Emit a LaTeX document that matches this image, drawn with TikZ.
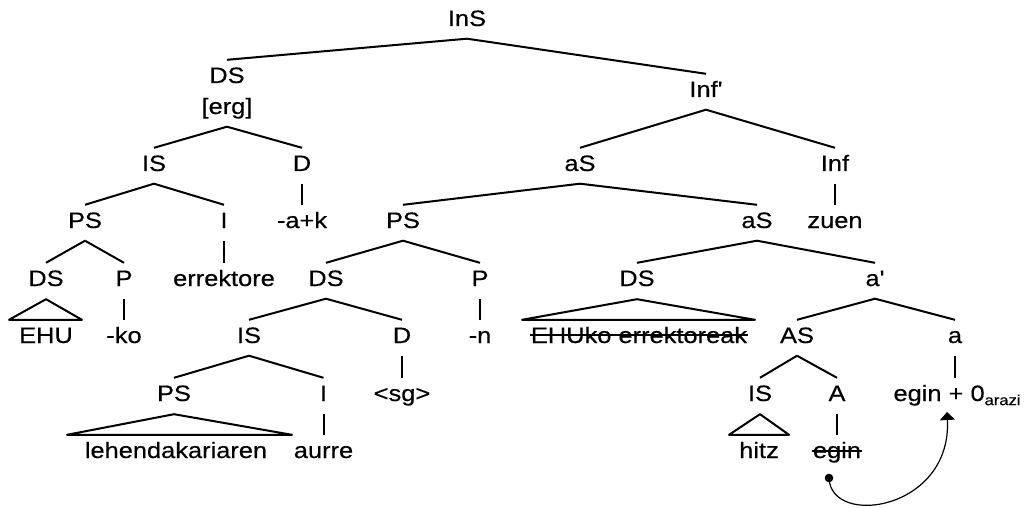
\documentclass[tikz,border=0pt]{standalone}
\usepackage{fontspec}
\newfontfamily\treefont[FakeStretch=1.14,FakeBold=0.4]{Liberation Sans}
\usetikzlibrary{calc,arrows.meta}
\begin{document}
\begin{tikzpicture}[x=1pt,y=-1pt,
  lab/.style={anchor=base, inner sep=0pt, text height=16pt, text depth=0pt,
    font=\fontsize{22.3}{26}\treefont},
  edge/.style={line width=2pt, line join=round},
  strike/.style={line width=1.5pt},
  mover/.style={line width=1.2pt, -{Triangle[width=15pt,length=8pt]}}]
\useasboundingbox (0,0) rectangle (1025,508);
% row 1
\node[lab] (ins) at (467,26) {InS};
\node[lab] (ds1) at (227,83) {DS};
\node[lab] (erg) at (227,114) {[erg]};
\node[lab] (infb) at (706,97) {Inf'};
% row
\node[lab] (is1) at (154,171) {IS};
\node[lab] (d1) at (302,171) {D};
\node[lab] (as1) at (580,171) {aS};
\node[lab] (inf) at (835,171) {Inf};
% row
\node[lab] (ps1) at (85,228) {PS};
\node[lab] (i1) at (224,228) {I};
\node[lab] (ak) at (302,228) {-a+k};
\node[lab] (ps2) at (403,228) {PS};
\node[lab] (as2) at (757,228) {aS};
\node[lab] (zuen) at (835,228) {zuen};
% row
\node[lab] (ds2) at (46,286) {DS};
\node[lab] (p1) at (124,286) {P};
\node[lab] (errek) at (224,286) {errektore};
\node[lab] (ds3) at (326,286) {DS};
\node[lab] (p2) at (480,286) {P};
\node[lab] (ds4) at (637,286) {DS};
\node[lab] (ab) at (875,286) {a'};
% row
\node[lab] (ehu) at (46,343) {EHU};
\node[lab] (ko) at (124,343) {-ko};
\node[lab] (is2) at (249,343) {IS};
\node[lab] (d2) at (402,343) {D};
\node[lab] (n) at (480,343) {-n};
\node[lab] (ehuko) at (639,343) {EHUko errektoreak};
\node[lab] (as3) at (797,343) {AS};
\node[lab] (a) at (955,343) {a};
% row
\node[lab] (ps3) at (174,401) {PS};
\node[lab] (i2) at (323.5,401) {I};
\node[lab] (sg) at (402,401) {<sg>};
\node[lab] (is3) at (760,401) {IS};
\node[lab] (A) at (837,401) {A};
\node[lab] (egin0) at (957,401) {egin + 0\raisebox{-0.35ex}{\fontsize{14.5}{15}\selectfont arazi}};
% row
\node[lab] (leh) at (176,458) {lehendakariaren};
\node[lab] (aurre) at (323.5,458) {aurre};
\node[lab] (hitz) at (759,458) {hitz};
\node[lab] (egin) at (837,458) {egin};
% branching edges
\foreach \p/\c in {ins/ds1, ins/infb, erg/is1, erg/d1, infb/as1, infb/inf,
  is1/ps1, is1/i1, as1/ps2, as1/as2, ps1/ds2, ps1/p1, ps2/ds3, ps2/p2,
  as2/ds4, as2/ab, ds3/is2, ds3/d2, ab/as3, ab/a, is2/ps3, is2/i2,
  as3/is3, as3/A}
  \draw[edge] ($(\p.south)+(0,12.5)$) -- ($(\c.north)+(0,-7)$);
% unary edges
\foreach \p/\c in {d1/ak, inf/zuen, i1/errek, p1/ko, p2/n, d2/sg, a/egin0,
  i2/aurre, A/egin}
  \draw[edge] ($(\p.south)+(0,12.5)$) -- ($(\p.south |- \c.north)+(0,-7)$);
% triangles
\foreach \p/\c/\l/\r in {ds2/ehu/-37/36, ps3/leh/-109/116, ds4/ehuko/-117/116, is3/hitz/-30/30}
  \draw[edge] ($(\p.south)+(0,13)$) -- ($(\c.north)+(\l,-7)$) -- ($(\c.north)+(\r,-7)$) -- cycle;
% strike-throughs
\draw[strike] ($(ehuko.base west)+(-1,-8)$) -- ($(ehuko.base east)+(1,-8)$);
\draw[strike] ($(egin.base west)+(-1,-7)$) -- ($(egin.base east)+(1,-7)$);
% movement arrow
\coordinate (mvstart) at (829,478);
\coordinate (mvtip) at (947,412);
\fill (mvstart) circle (4.3);
\draw[mover] (mvstart) .. controls (831,528) and (952,510) .. (mvtip);
\end{tikzpicture}
\end{document}
